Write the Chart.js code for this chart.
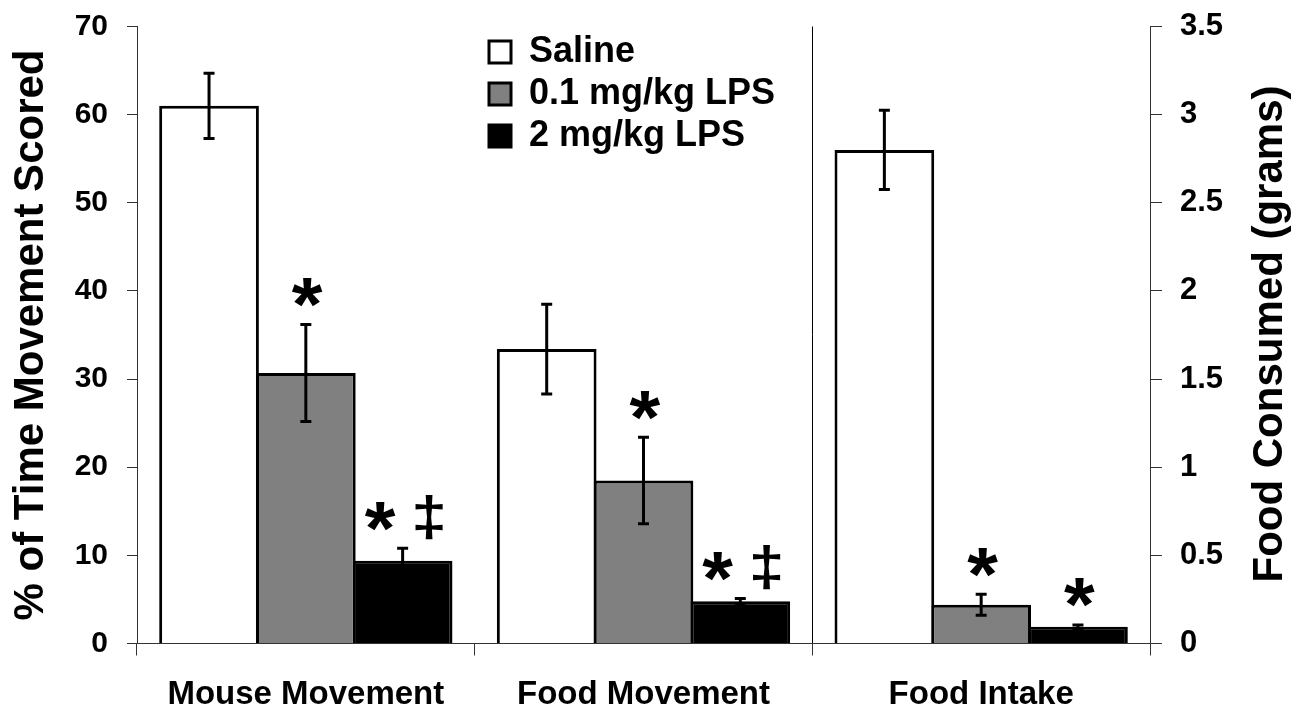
<!DOCTYPE html>
<html><head><meta charset="utf-8">
<script src="https://cdn.jsdelivr.net/npm/chart.js@4.4.1/dist/chart.umd.min.js"></script>
<style>html,body{margin:0;padding:0;background:#fff;} #wrap{width:1296px;height:711px;}</style>
</head><body><div id="wrap"><canvas id="c" width="1296" height="711"></canvas></div>
<script>
// ---- data ----
const categories = ['Mouse Movement', 'Food Movement', 'Food Intake'];
const seriesNames = ['Saline', '0.1 mg/kg LPS', '2 mg/kg LPS'];
const salineMean = [61.0, 33.4, 2.80];
const salineErr  = [3.7, 5.1, 0.225];
const lps01Mean  = [30.7, 18.5, 0.22];
const lps01Err   = [5.5, 4.9, 0.06];
const lps2Mean   = [9.4, 4.8, 0.095];
const lps2Err    = [1.4, 0.3, 0.01];
const salineSig  = ['', '', ''];
const lps01Sig   = ['*', '*', '*'];
const lps2Sig    = ['* ‡', '* ‡', '*'];
const categoryAxis = ['y', 'y', 'y1'];
const leftTickLabels  = ['0', '10', '20', '30', '40', '50', '60', '70'];
const rightTickLabels = ['0', '0.5', '1', '1.5', '2', '2.5', '3', '3.5'];
const leftTitle  = '% of Time Movement Scored';
const rightTitle = 'Food Consumed (grams)';

// ---- styling ----
const FONT = '"Liberation Sans", Arial, Helvetica, sans-serif';
const fills = ['#ffffff', '#808080', '#000000'];
const means = [salineMean, lps01Mean, lps2Mean];
const errs = [salineErr, lps01Err, lps2Err];
const sigs = [salineSig, lps01Sig, lps2Sig];

const datasets = [];
['y', 'y1'].forEach(axis => {
  means.forEach((m, s) => {
    datasets.push({
      label: seriesNames[s],
      data: m.map((v, i) => categoryAxis[i] === axis ? v : null),
      errors: errs[s],
      sig: sigs[s],
      yAxisID: axis,
      backgroundColor: fills[s],
      borderColor: '#000',
      borderWidth: 3,
      borderSkipped: 'bottom',
      barPercentage: 1.03,
      categoryPercentage: 0.86,
      skipNull: true
    });
  });
});

const errorBars = {
  id: 'errorBars',
  afterDatasetsDraw(chart) {
    const ctx = chart.ctx;
    chart.data.datasets.forEach((ds, di) => {
      const meta = chart.getDatasetMeta(di);
      const scale = chart.scales[ds.yAxisID];
      meta.data.forEach((el, i) => {
        const v = ds.data[i];
        if (v == null || !isFinite(el.x)) return;
        const e = ds.errors[i];
        const x = el.x;
        const yt = scale.getPixelForValue(v + e);
        const yb = scale.getPixelForValue(v - e);
        ctx.save();
        ctx.strokeStyle = '#000';
        ctx.lineWidth = 3;
        ctx.beginPath();
        ctx.moveTo(x, yt); ctx.lineTo(x, yb);
        ctx.moveTo(x - 5.5, yt); ctx.lineTo(x + 5.5, yt);
        ctx.moveTo(x - 5.5, yb); ctx.lineTo(x + 5.5, yb);
        ctx.stroke();
        ctx.restore();
      });
    });
  }
};

function drawGlyph(ctx, ch, cx, cy, targetW, targetH) {
  ctx.font = 'bold 100px ' + FONT;
  let m = ctx.measureText(ch);
  const h = m.actualBoundingBoxAscent + m.actualBoundingBoxDescent;
  const size = 100 * targetH / h;
  ctx.font = 'bold ' + size + 'px ' + FONT;
  m = ctx.measureText(ch);
  const w = m.actualBoundingBoxRight + m.actualBoundingBoxLeft;
  const sx = targetW / w;
  const y = cy + (m.actualBoundingBoxAscent - m.actualBoundingBoxDescent) / 2;
  ctx.save();
  ctx.translate(cx, y);
  ctx.scale(sx, 1);
  ctx.textAlign = 'left';
  ctx.textBaseline = 'alphabetic';
  ctx.fillStyle = '#000';
  ctx.fillText(ch, -(m.actualBoundingBoxRight - m.actualBoundingBoxLeft) / 2, 0);
  ctx.restore();
}

const sigMarks = {
  id: 'sigMarks',
  afterDatasetsDraw(chart) {
    const ctx = chart.ctx;
    chart.data.datasets.forEach((ds, di) => {
      const meta = chart.getDatasetMeta(di);
      const scale = chart.scales[ds.yAxisID];
      meta.data.forEach((el, i) => {
        const v = ds.data[i];
        const s = ds.sig[i];
        if (v == null || !s) return;
        const yt = scale.getPixelForValue(v + ds.errors[i]);
        const cy = yt - 32;
        const parts = s.split(' ');
        if (parts.length === 2) {
          drawGlyph(ctx, parts[0], el.x - 22.5, cy, 31, 29);
          drawGlyph(ctx, parts[1], el.x + 26, cy + 1, 28, 44);
        } else {
          drawGlyph(ctx, parts[0], el.x + 1.5, cy, 31, 29);
        }
      });
    });
  }
};

const legendPlace = {
  id: 'legendPlace',
  afterLayout(chart) {
    const lg = chart.legend;
    if (!lg) return;
    lg.left = 483; lg.top = 28;
    lg.right = lg.left + 400; lg.bottom = chart.height;
  }
};

const rightTitlePlugin = {
  id: 'rightTitle',
  afterDraw(chart) {
    const ctx = chart.ctx;
    const ca = chart.chartArea;
    ctx.save();
    ctx.translate(chart.width - 26, (ca.top + ca.bottom) / 2 - 1);
    ctx.rotate(-Math.PI / 2);
    ctx.font = 'bold 42px ' + FONT;
    ctx.fillStyle = '#000';
    ctx.textAlign = 'center';
    ctx.textBaseline = 'middle';
    ctx.fillText(rightTitle, 0, 0);
    ctx.restore();
  }
};

const noVPad = (s, w) => { s.width = w; s.paddingTop = 0; s.paddingBottom = 0; };

new Chart(document.getElementById('c'), {
  type: 'bar',
  data: { labels: categories, datasets },
  options: {
    responsive: false,
    animation: false,
    devicePixelRatio: 1,
    layout: { padding: { top: 26.5, left: 0, right: 0, bottom: 0 } },
    plugins: {
      tooltip: { enabled: false },
      legend: {
        position: 'chartArea',
        align: 'start',
        labels: {
          filter: (item) => item.datasetIndex < 3,
          boxWidth: 22,
          boxHeight: 22,
          padding: 6,
          color: '#000',
          font: { family: FONT, size: 36, weight: 'bold' }
        }
      }
    },
    scales: {
      x: {
        offset: true,
        grid: {
          offset: true,
          drawOnChartArea: true,
          color: (c) => c.index === 2 ? '#000' : 'rgba(0,0,0,0)',
          tickColor: '#333',
          tickLength: 12,
          lineWidth: 1
        },
        border: { display: true, color: '#333', width: 1 },
        ticks: {
          color: '#000',
          font: { family: FONT, size: 33, weight: 'bold' },
          padding: 20,
          maxRotation: 0,
          autoSkip: false
        },
        afterFit: (s) => { s.height = 67.5; }
      },
      y: {
        position: 'left',
        min: 0, max: 70,
        ticks: {
          stepSize: 10,
          color: '#000',
          padding: 19,
          font: { family: FONT, size: 30, weight: 'bold' },
          callback: (v, i) => leftTickLabels[i]
        },
        grid: { drawOnChartArea: false, tickLength: 10, tickColor: '#333' },
        border: { display: true, color: '#333', width: 1 },
        title: {
          display: true,
          text: leftTitle,
          color: '#000',
          font: { family: FONT, size: 42, weight: 'bold', lineHeight: 1.2 },
          padding: { top: 6, bottom: 0 }
        },
        afterFit: (s) => noVPad(s, 137)
      },
      y1: {
        position: 'right',
        min: 0, max: 3.5,
        ticks: {
          stepSize: 0.5,
          color: '#000',
          padding: 18,
          font: { family: FONT, size: 31, weight: 'bold' },
          callback: (v, i) => rightTickLabels[i]
        },
        grid: { drawOnChartArea: false, tickLength: 12, tickColor: '#333' },
        border: { display: true, color: '#333', width: 1 },
        afterFit: (s) => noVPad(s, 146)
      }
    }
  },
  plugins: [legendPlace, errorBars, sigMarks, rightTitlePlugin]
});
</script>
</body></html>
